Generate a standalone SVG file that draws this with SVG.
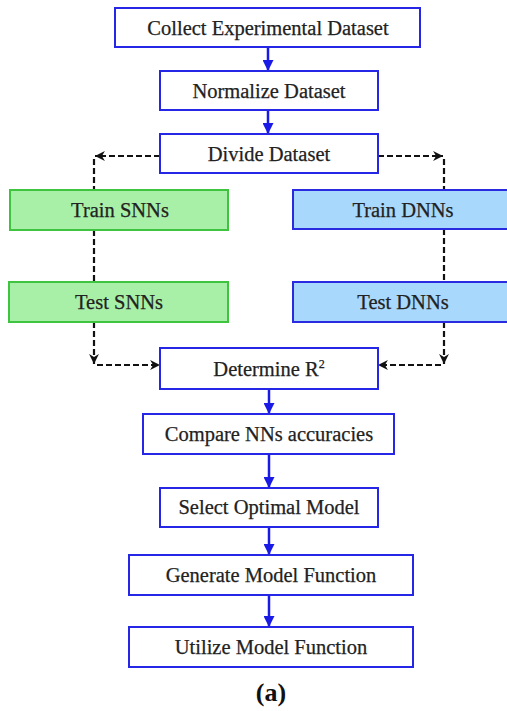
<svg xmlns="http://www.w3.org/2000/svg" width="507" height="711" viewBox="0 0 507 711">
<style>
.b{fill:#fff;stroke:#2626e6;stroke-width:2}
.g{fill:#a8f0a8;stroke:#3ec43e;stroke-width:2}
.d{fill:#a8d8fc;stroke:#2a2ae0;stroke-width:2}
text{font-family:"Liberation Serif","Times New Roman",serif;font-size:20.5px;fill:#222;stroke:#222;stroke-width:0.25;text-anchor:middle}
.s{stroke:#1a1ae6;stroke-width:2.5;fill:none}
.k{stroke:#111;stroke-width:2.2;fill:none;stroke-dasharray:6 3}
</style>
<defs>
<marker id="ab" viewBox="0 0 10 10" refX="10" refY="5" markerWidth="4.4" markerHeight="4.4" orient="auto" markerUnits="strokeWidth"><path d="M0,0L10,5L0,10z" fill="#1a1ae6"/></marker>
<marker id="ak" viewBox="0 0 10 10" refX="10" refY="5" markerWidth="4.5" markerHeight="4.5" orient="auto" markerUnits="strokeWidth"><path d="M0,0L10,5L0,10L3,5z" fill="#111"/></marker>
</defs>
<g id="connectors">
<line class="s" x1="268" y1="47" x2="268" y2="71" marker-end="url(#ab)"/>
<line class="s" x1="268" y1="110" x2="268" y2="134" marker-end="url(#ab)"/>
<line class="s" x1="269" y1="389" x2="269" y2="414" marker-end="url(#ab)"/>
<line class="s" x1="269" y1="454" x2="269" y2="488" marker-end="url(#ab)"/>
<line class="s" x1="269" y1="527" x2="269" y2="555" marker-end="url(#ab)"/>
<line class="s" x1="269" y1="595" x2="269" y2="627" marker-end="url(#ab)"/>
<line class="k" x1="160" y1="156" x2="95" y2="156" marker-end="url(#ak)"/>
<line class="k" x1="94" y1="159" x2="94" y2="190"/>
<line class="k" x1="378" y1="156" x2="443" y2="156" marker-end="url(#ak)"/>
<line class="k" x1="444" y1="159" x2="444" y2="190"/>
<line class="k" x1="94" y1="230" x2="94" y2="282"/>
<line class="k" x1="444" y1="229" x2="444" y2="282"/>
<line class="k" x1="94" y1="322" x2="94" y2="364" marker-end="url(#ak)"/>
<line class="k" x1="97" y1="365" x2="160" y2="365" marker-end="url(#ak)"/>
<line class="k" x1="444" y1="322" x2="444" y2="364" marker-end="url(#ak)"/>
<line class="k" x1="441" y1="365" x2="378" y2="365" marker-end="url(#ak)"/>
</g>
<g id="collect"><rect class="b" x="115" y="8" width="305" height="39"/><text x="268" y="35">Collect Experimental Dataset</text></g>
<g id="normalize"><rect class="b" x="160" y="71" width="218" height="39"/><text x="269" y="98">Normalize Dataset</text></g>
<g id="divide"><rect class="b" x="160" y="134" width="218" height="39"/><text x="269" y="161">Divide Dataset</text></g>
<g id="trainSNN"><rect class="g" x="10" y="190" width="218" height="40"/><text x="120" y="217">Train SNNs</text></g>
<g id="trainDNN"><rect class="d" x="293" y="190" width="220" height="39"/><text x="403" y="217">Train DNNs</text></g>
<g id="testSNN"><rect class="g" x="9" y="282" width="219" height="40"/><text x="119" y="309">Test SNNs</text></g>
<g id="testDNN"><rect class="d" x="293" y="282" width="220" height="40"/><text x="403" y="309">Test DNNs</text></g>
<g id="determine"><rect class="b" x="160" y="348" width="218" height="41"/><text x="269" y="376">Determine R<tspan font-size="12" dy="-8">2</tspan></text></g>
<g id="compare"><rect class="b" x="143" y="414" width="251" height="40"/><text x="269" y="441">Compare NNs accuracies</text></g>
<g id="select"><rect class="b" x="160" y="488" width="218" height="39"/><text x="269" y="514">Select Optimal Model</text></g>
<g id="generate"><rect class="b" x="129" y="555" width="284" height="40"/><text x="271" y="582">Generate Model Function</text></g>
<g id="utilize"><rect class="b" x="129" y="627" width="284" height="40"/><text x="271" y="654">Utilize Model Function</text></g>
<text x="271" y="701" font-weight="bold" style="font-size:26px;fill:#111;stroke:none">(a)</text>
</svg>
